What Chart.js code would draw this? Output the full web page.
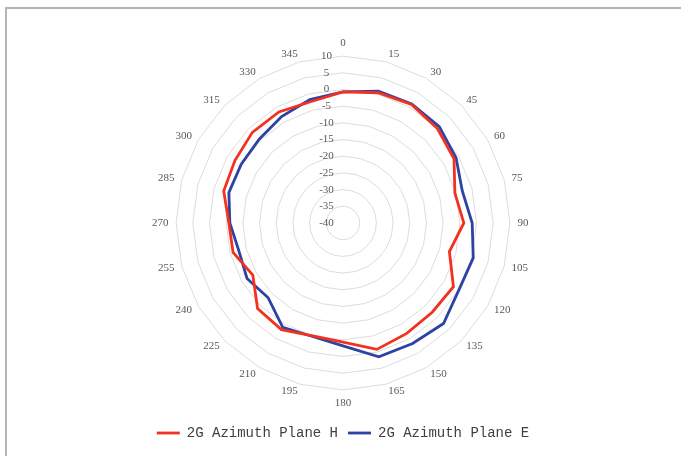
<!DOCTYPE html>
<html>
<head>
<meta charset="utf-8">
<script src="https://cdn.jsdelivr.net/npm/chart.js@4"></script>
<style>
  html, body { margin: 0; padding: 0; background: #fff; }
  #frame {
    position: absolute; left: 5px; top: 7px; width: 700px; height: 500px;
    border-top: 2px solid #b4b4b4; border-left: 2px solid #b4b4b4;
  }
  #chart { position: absolute; left: 0; top: 0; }
</style>
</head>
<body>
<div id="frame"></div>
<canvas id="chart" width="681" height="456"></canvas>
<script>
'use strict';

// azimuth angles (degrees)
var angles = ['0', '15', '30', '45', '60', '75', '90', '105', '120', '135', '150', '165',
  '180', '195', '210', '225', '240', '255', '270', '285', '300', '315', '330', '345'];

// gain in dB
var planeH = [-0.7, 0.4, 1.0, 0.0, -1.6, -5.3, -3.8, -7.0, -1.8, -2.2, -1.8, -0.8,
  -4.3, -5.0, -3.1, -3.8, -8.8, -5.9, -5.8, -3.0, -2.6, -1.6, -1.6, -2.4];
var planeE = [-0.7, 0.9, 1.2, 0.8, -0.9, -3.0, -1.3, 0.4, 0.1, 2.6, 1.7, 1.5,
  -3.2, -4.8, -3.9, -8.3, -6.8, -7.7, -6.1, -4.6, -4.8, -4.5, -3.2, -1.7];

var seriesNames = ['2G Azimuth Plane H', '2G Azimuth Plane E'];
var scaleMin = -40;
var scaleMax = 10;
var scaleStep = 5;

var red = '#f3311f';
var blue = '#2c43a4';

// trailing spaces push the centred tick text to the left of the axis
var tickPad = '            ';

var ctx = document.getElementById('chart').getContext('2d');
var myChart = new Chart(ctx, {
  type: 'radar',
  data: {
    labels: angles,
    datasets: [{
      label: seriesNames[0],
      data: planeH,
      borderColor: red,
      backgroundColor: red,
      borderWidth: 2.8,
      pointRadius: 0,
      pointStyle: 'line',
      fill: false,
      tension: 0
    }, {
      label: seriesNames[1],
      data: planeE,
      borderColor: blue,
      backgroundColor: blue,
      borderWidth: 2.8,
      pointRadius: 0,
      pointStyle: 'line',
      fill: false,
      tension: 0
    }]
  },
  options: {
    responsive: false,
    animation: false,
    layout: {
      padding: { top: 44, bottom: 6, left: 5, right: 0 }
    },
    plugins: {
      legend: {
        position: 'bottom',
        // empty title only used as a gap between the plot and the legend row
        title: { display: true, text: '', font: { size: 10 }, padding: 0 },
        labels: {
          usePointStyle: true,
          pointStyleWidth: 23,
          boxHeight: 14,
          padding: 10,
          color: '#404040',
          font: { family: 'Liberation Mono', size: 14 }
        }
      },
      tooltip: { enabled: false }
    },
    scales: {
      r: {
        min: scaleMin,
        max: scaleMax,
        angleLines: { display: false },
        grid: { color: '#dcdcdc', lineWidth: 1 },
        ticks: {
          stepSize: scaleStep,
          showLabelBackdrop: false,
          backdropPadding: 0,
          color: '#595959',
          font: { family: 'Liberation Serif', size: 11 },
          callback: function(value) {
            return value + tickPad;
          }
        },
        pointLabels: {
          // labels are centred on their anchor, top and bottom sit a bit further out
          padding: function(c) {
            return (c.index === 0 || c.index === 12) ? 7.5 : 2;
          },
          color: '#595959',
          font: { family: 'Liberation Serif', size: 11, lineHeight: 0.01 }
        }
      }
    }
  }
});
</script>
</body>
</html>
